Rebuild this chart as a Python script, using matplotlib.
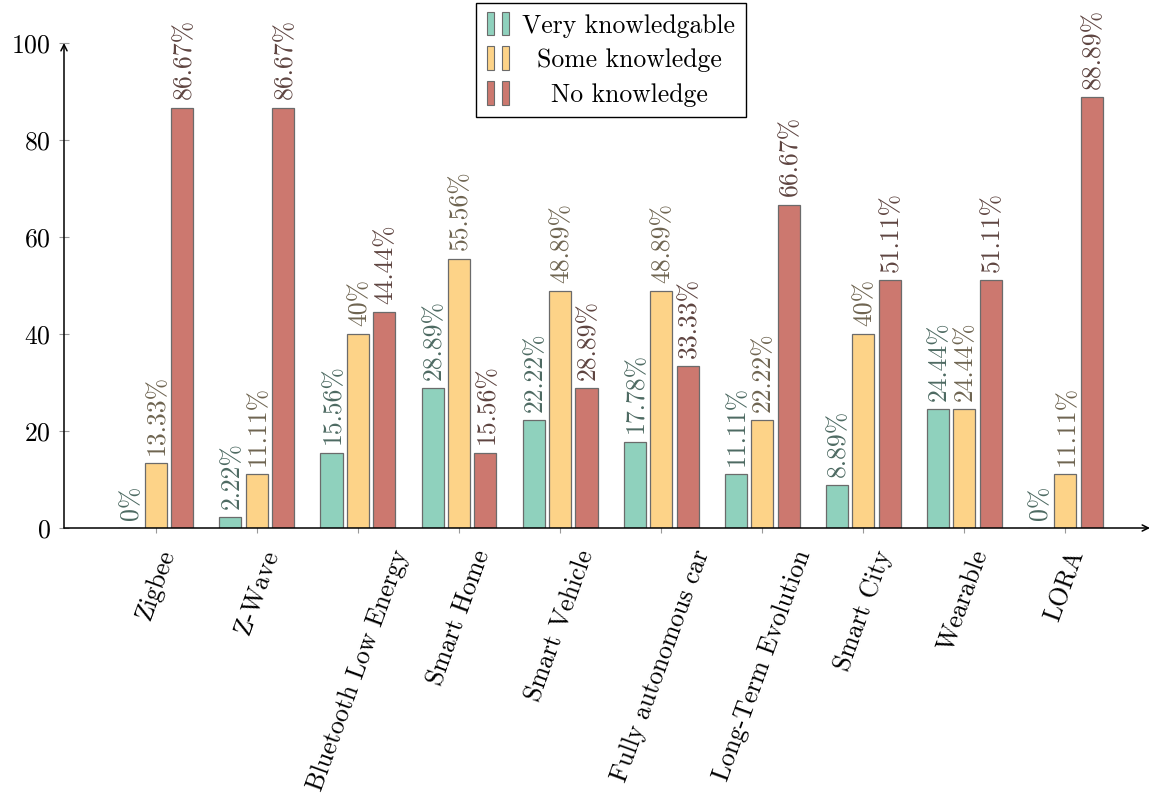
import numpy as np
import matplotlib
matplotlib.use("Agg")
import matplotlib.pyplot as plt
from matplotlib.patches import Rectangle
from matplotlib.legend_handler import HandlerBase

plt.rcParams['font.family'] = ['cmr10', 'DejaVu Serif']
plt.rcParams['mathtext.fontset'] = 'cm'
plt.rcParams['axes.unicode_minus'] = False
plt.rcParams['axes.formatter.use_mathtext'] = True

categories = ['Zigbee', 'Z-Wave', 'Bluetooth Low Energy', 'Smart Home',
              'Smart Vehicle', 'Fully autonomous car', 'Long-Term Evolution',
              'Smart City', 'Wearable', 'LORA']
very = [0, 2.22, 15.56, 28.89, 22.22, 17.78, 11.11, 8.89, 24.44, 0]
some = [13.33, 11.11, 40, 55.56, 48.89, 48.89, 22.22, 40, 24.44, 11.11]
none_ = [86.67, 86.67, 44.44, 15.56, 28.89, 33.33, 66.67, 51.11, 51.11, 88.89]
series_names = ['Very knowledgable', 'Some knowledge', 'No knowledge']

fills = ['#8fd1bd', '#fdd388', '#cc786f']
label_cols = ['#4d6a62', '#6e6450', '#5e4440']
edge = '#6b6b6b'
fs = 18.5


class TwoBars(HandlerBase):
    # pgfplots-style ybar legend image: two small bars
    def create_artists(self, legend, orig, xd, yd, width, height, fontsize, trans):
        fc = orig.get_facecolor()
        w = width * 0.3
        r1 = Rectangle((-xd, -yd - 0.1 * height), w, 1.2 * height,
                       facecolor=fc, edgecolor=edge, lw=0.8, transform=trans)
        r2 = Rectangle((-xd + width * 0.62, -yd - 0.1 * height), w, 1.2 * height,
                       facecolor=fc, edgecolor=edge, lw=0.8, transform=trans)
        return [r1, r2]


W, H = 1151, 805
fig = plt.figure(figsize=(W / 100, H / 100), dpi=100)
ax = fig.add_axes([64 / W, (H - 528) / H, (1150 - 64) / W, (528 - 43) / H])

x = np.arange(len(categories))
bw = 0.218
off = 0.262
handles = []
for i, vals in enumerate([very, some, none_]):
    bars = ax.bar(x + (i - 1) * off, vals, bw, color=fills[i], edgecolor=edge,
                  linewidth=0.9, zorder=3, label=series_names[i])
    handles.append(bars[0])
    for xi, v in zip(x + (i - 1) * off, vals):
        ax.annotate(f'{v:g}%', (xi, v), xytext=(1, 6), textcoords='offset points',
                    rotation=90, ha='center', va='bottom', fontsize=fs,
                    color=label_cols[i], zorder=4)

ax.set_xlim(-0.91, 9.84)
ax.set_ylim(0, 100)
ax.set_yticks([0, 20, 40, 60, 80, 100])
ax.set_xticks(x)
ax.set_xticklabels(categories, rotation=70, ha='center', va='top')
ax.tick_params(axis='both', direction='inout', length=7, width=0.8,
               color='#999999', labelsize=fs)
ax.tick_params(axis='x', pad=10)
ax.tick_params(axis='y', pad=6)

for s in ax.spines.values():
    s.set_visible(False)
ax.annotate('', xy=(1, 0), xytext=(0, 0), xycoords='axes fraction',
            arrowprops=dict(arrowstyle='->', color='black', lw=1.1,
                            mutation_scale=11, shrinkA=0, shrinkB=0), zorder=5)
ax.annotate('', xy=(0, 1), xytext=(0, 0), xycoords='axes fraction',
            arrowprops=dict(arrowstyle='->', color='black', lw=1.1,
                            mutation_scale=11, shrinkA=0, shrinkB=0), zorder=5)

leg = fig.legend(handles, series_names, handler_map={h: TwoBars() for h in handles},
                 loc='upper center', bbox_to_anchor=(611 / W, 1 - 3 / H),
                 fontsize=fs, frameon=True, fancybox=False, edgecolor='black',
                 framealpha=1, handlelength=0.95, handleheight=0.8,
                 handletextpad=0.45, labelspacing=0.42, borderpad=0.42,
                 borderaxespad=0)
leg.get_frame().set_linewidth(1.0)

# center the legend texts like pgfplots does
fig.canvas.draw()
r = fig.canvas.get_renderer()
widths = [t.get_window_extent(r).width for t in leg.get_texts()]
for t, w in zip(leg.get_texts(), widths):
    t.set_x((max(widths) - w) / 2)

fig.savefig('out.png', dpi=100)
